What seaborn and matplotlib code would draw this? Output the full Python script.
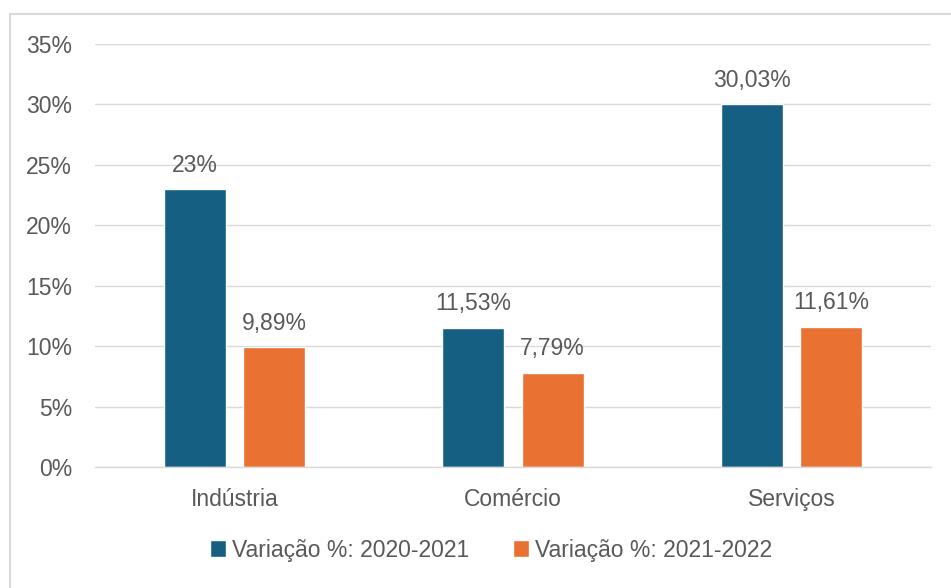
import matplotlib
matplotlib.use("Agg")
import matplotlib.pyplot as plt
import seaborn as sns
import pandas as pd
from matplotlib.patches import Rectangle

categories = ["Indústria", "Comércio", "Serviços"]
series_names = ["Variação %: 2020-2021", "Variação %: 2021-2022"]
values_2020_2021 = [23.0, 11.53, 30.03]
values_2021_2022 = [9.89, 7.79, 11.61]
labels_2020_2021 = ["23%", "11,53%", "30,03%"]
labels_2021_2022 = ["9,89%", "7,79%", "11,61%"]
y_ticks = [0, 5, 10, 15, 20, 25, 30, 35]
y_tick_labels = ["0%", "5%", "10%", "15%", "20%", "25%", "30%", "35%"]

colors = ["#156082", "#E97132"]
text_color = "#595959"
fs = 16.5

df = pd.DataFrame({
    "Setor": categories * 2,
    "Série": [series_names[0]] * 3 + [series_names[1]] * 3,
    "Valor": values_2020_2021 + values_2021_2022,
})

sns.set_theme(style="white")
plt.rcParams["font.family"] = ["Liberation Sans", "DejaVu Sans"]

fig = plt.figure(figsize=(9.51, 5.88), dpi=100)
W, H = 951, 588
ax = fig.add_axes([95 / W, 1 - 467 / H, (931 - 95) / W, (467 - 44) / H])

sns.barplot(data=df, x="Setor", y="Valor", hue="Série", palette=colors,
            width=0.57, gap=0.22, ax=ax, legend=True, saturation=1)

ax.set_ylim(0, 35)
ax.set_yticks(y_ticks)
ax.set_yticklabels(y_tick_labels)
ax.set_xlabel("")
ax.set_ylabel("")
ax.yaxis.grid(True, color="#D9D9D9", linewidth=1)
ax.set_axisbelow(True)
for s in ["top", "right", "left"]:
    ax.spines[s].set_visible(False)
ax.spines["bottom"].set_color("#D9D9D9")
ax.spines["bottom"].set_linewidth(1)
ax.tick_params(axis="both", length=0, labelsize=fs, colors=text_color)
ax.tick_params(axis="y", pad=16.5)
ax.tick_params(axis="x", pad=15)

for cont, labs in zip(ax.containers, [labels_2020_2021, labels_2021_2022]):
    ax.bar_label(cont, labels=labs, padding=9, fontsize=fs, color=text_color)

handles, labels = ax.get_legend_handles_labels()
ax.legend(handles, labels, loc="center", bbox_to_anchor=(491 / W, 1 - 550 / H),
          bbox_transform=fig.transFigure, ncol=2, frameon=False,
          fontsize=fs, labelcolor=text_color, handlelength=0.7,
          handleheight=0.75, handletextpad=0.25, columnspacing=1.9)

fig.patches.append(Rectangle((9.5 / W, -0.1), 1.2, 1 - 14.5 / H + 0.1,
                             transform=fig.transFigure, fill=False,
                             edgecolor="#D9D9D9", linewidth=1.5))

fig.savefig("out.png", dpi=100)
